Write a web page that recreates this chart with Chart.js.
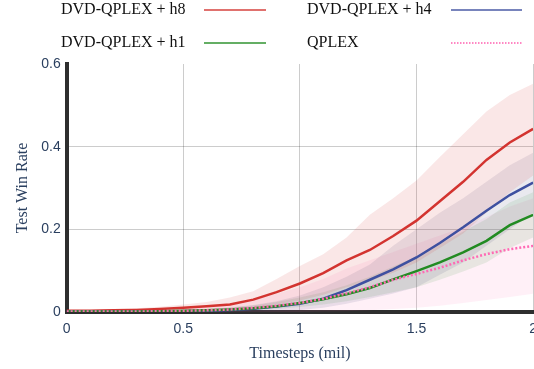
<!DOCTYPE html>
<html>
<head>
<meta charset="utf-8">
<script src="https://cdn.jsdelivr.net/npm/chart.js@4"></script>
<style>
  html, body { margin: 0; padding: 0; background: #fff; overflow: hidden; }
  #wrap { width: 546px; height: 369px; }
</style>
</head>
<body>
<div id="wrap"><canvas id="winChart"></canvas></div>
<script>
// timesteps in millions
const steps = [0, 0.1, 0.2, 0.3, 0.4, 0.5, 0.6, 0.7, 0.8, 0.9, 1.0, 1.1, 1.2, 1.3, 1.4, 1.5, 1.6, 1.7, 1.8, 1.9, 2.0];

// DVD-QPLEX + h8
const h8Mean  = [0.003, 0.003, 0.004, 0.005, 0.007, 0.01, 0.014, 0.018, 0.03, 0.048, 0.069, 0.094, 0.125, 0.15, 0.184, 0.221, 0.268, 0.315, 0.368, 0.41, 0.443];
const h8Upper = [0.004, 0.005, 0.007, 0.009, 0.013, 0.018, 0.024, 0.035, 0.05, 0.08, 0.111, 0.14, 0.18, 0.235, 0.275, 0.318, 0.375, 0.43, 0.485, 0.525, 0.552];
const h8Lower = [0.001, 0.001, 0.001, 0.001, 0.002, 0.003, 0.004, 0.006, 0.01, 0.018, 0.028, 0.042, 0.06, 0.075, 0.095, 0.12, 0.155, 0.19, 0.24, 0.29, 0.33];

// DVD-QPLEX + h4
const h4Mean  = [0.001, 0.001, 0.001, 0.001, 0.002, 0.002, 0.003, 0.005, 0.008, 0.013, 0.02, 0.032, 0.053, 0.078, 0.103, 0.132, 0.167, 0.205, 0.245, 0.283, 0.313];
const h4Upper = [0.002, 0.002, 0.003, 0.003, 0.004, 0.005, 0.007, 0.011, 0.017, 0.026, 0.04, 0.06, 0.085, 0.115, 0.16, 0.2, 0.24, 0.275, 0.315, 0.355, 0.385];
const h4Lower = [0, 0, 0, 0, 0, 0, 0, 0.001, 0.002, 0.003, 0.005, 0.01, 0.02, 0.032, 0.045, 0.06, 0.09, 0.12, 0.16, 0.2, 0.24];

// DVD-QPLEX + h1
const h1Mean  = [0.001, 0.001, 0.001, 0.001, 0.002, 0.003, 0.004, 0.006, 0.009, 0.014, 0.022, 0.031, 0.043, 0.058, 0.079, 0.099, 0.12, 0.144, 0.172, 0.21, 0.235];
const h1Upper = [0.002, 0.002, 0.003, 0.003, 0.004, 0.005, 0.007, 0.011, 0.016, 0.024, 0.035, 0.048, 0.065, 0.085, 0.11, 0.135, 0.165, 0.195, 0.225, 0.265, 0.29];
const h1Lower = [0, 0, 0, 0, 0, 0.001, 0.001, 0.002, 0.004, 0.007, 0.012, 0.018, 0.026, 0.036, 0.048, 0.06, 0.078, 0.098, 0.12, 0.155, 0.18];

// QPLEX
const qpMean  = [0.001, 0.001, 0.001, 0.001, 0.002, 0.003, 0.004, 0.006, 0.01, 0.015, 0.022, 0.032, 0.045, 0.06, 0.078, 0.092, 0.107, 0.125, 0.14, 0.152, 0.16];
const qpUpper = [0.002, 0.002, 0.003, 0.004, 0.006, 0.009, 0.013, 0.02, 0.03, 0.044, 0.06, 0.08, 0.105, 0.125, 0.145, 0.165, 0.185, 0.205, 0.23, 0.255, 0.275];
const qpLower = [0, 0, 0, 0, 0, 0, 0, 0, 0, 0, 0, 0.001, 0.002, 0.004, 0.007, 0.01, 0.015, 0.022, 0.029, 0.036, 0.044];

const seriesNames = ['DVD-QPLEX + h8', 'DVD-QPLEX + h4', 'DVD-QPLEX + h1', 'QPLEX'];
const xTicks = [0, 0.5, 1, 1.5, 2];
const yTicks = [0, 0.2, 0.4, 0.6];

const series = [
    { name: seriesNames[0], mean: h8Mean, upper: h8Upper, lower: h8Lower, color: 'rgb(211,52,48)', band: 'rgba(214,39,40,0.11)', dash: [] },
    { name: seriesNames[1], mean: h4Mean, upper: h4Upper, lower: h4Lower, color: 'rgb(62,80,160)', band: 'rgba(70,70,120,0.12)', dash: [] },
    { name: seriesNames[2], mean: h1Mean, upper: h1Upper, lower: h1Lower, color: 'rgb(34,139,34)', band: 'rgba(34,139,34,0.1)', dash: [] },
    { name: seriesNames[3], mean: qpMean, upper: qpUpper, lower: qpLower, color: 'rgb(255,105,180)', band: 'rgba(255,105,180,0.1)', dash: [2, 2] }
];

function pts(arr) {
    return steps.map((s, i) => ({ x: s, y: arr[i] }));
}

// bands first, mean lines on top
const datasets = [];
series.forEach(s => {
    const upIdx = datasets.length;
    datasets.push({ label: s.name + ' upper', data: pts(s.upper), borderWidth: 0, pointRadius: 0, backgroundColor: s.band, fill: upIdx + 1, order: 2 });
    datasets.push({ label: s.name + ' lower', data: pts(s.lower), borderWidth: 0, pointRadius: 0, fill: false, order: 2 });
});
series.slice().reverse().forEach(s => {
    datasets.push({ label: s.name, data: pts(s.mean), borderColor: s.color, borderWidth: 2.5, borderDash: s.dash, pointRadius: 0, fill: false, order: 1 });
});

// legend: text first, then a line sample (drawn by hand)
const legendPlugin = {
    id: 'textLegend',
    afterDraw(chart) {
        const ctx = chart.ctx;
        const cols = [61, 307];
        const rows = [10, 43];
        ctx.save();
        ctx.font = "16px 'Liberation Serif'";
        ctx.fillStyle = '#111';
        ctx.textBaseline = 'middle';
        series.forEach((s, i) => {
            const x = cols[i % 2];
            const y = rows[Math.floor(i / 2)];
            ctx.fillText(s.name, x, y);
            ctx.beginPath();
            ctx.strokeStyle = s.color;
            ctx.lineWidth = 2;
            ctx.setLineDash(s.dash.length ? [1.5, 1.5] : []);
            ctx.globalAlpha = i === 3 ? 0.8 : 0.7;
            const x0 = i % 2 === 0 ? 204 : 451;
            const x1 = i % 2 === 0 ? 266 : 522;
            ctx.moveTo(x0, y);
            ctx.lineTo(x1, y);
            ctx.stroke();
            ctx.globalAlpha = 1;
        });
        ctx.restore();
    }
};

const ctx = document.getElementById('winChart').getContext('2d');
new Chart(ctx, {
    type: 'line',
    data: { datasets: datasets },
    options: {
        responsive: true,
        maintainAspectRatio: false,
        animation: false,
        layout: { padding: { top: 64, left: 13, right: 0, bottom: 6 } },
        plugins: {
            legend: { display: false },
            tooltip: { enabled: false }
        },
        elements: { line: { tension: 0 } },
        scales: {
            x: {
                type: 'linear',
                min: 0,
                max: 2,
                afterBuildTicks: axis => { axis.ticks = xTicks.map(v => ({ value: v })); },
                ticks: { color: '#2a3f5f', font: { family: "'Liberation Sans'", size: 14 }, padding: 9, maxRotation: 0, callback: v => String(v) },
                grid: { color: ctx2 => ctx2.tick && ctx2.tick.value === 0 ? 'rgba(0,0,0,0)' : 'rgba(0,0,0,0.2)', drawTicks: false },
                border: { display: true, color: '#2e2e2e', width: 4 },
                title: { display: true, text: 'Timesteps (mil)', color: '#2a3f5f', font: { family: "'Liberation Serif'", size: 16 }, padding: { top: -3, bottom: 0 } }
            },
            y: {
                min: 0,
                max: 0.6,
                afterBuildTicks: axis => { axis.ticks = yTicks.map(v => ({ value: v })); },
                ticks: { color: '#2a3f5f', font: { family: "'Liberation Sans'", size: 14 }, padding: 6, callback: v => String(v) },
                grid: { color: ctx2 => ctx2.tick && (ctx2.tick.value === 0 || ctx2.tick.value === 0.6) ? 'rgba(0,0,0,0)' : 'rgba(0,0,0,0.2)', drawTicks: false },
                border: { display: true, color: '#2e2e2e', width: 4 },
                title: { display: true, text: 'Test Win Rate', color: '#2a3f5f', font: { family: "'Liberation Serif'", size: 16 }, padding: { top: 0, bottom: 3 } }
            }
        }
    },
    plugins: [legendPlugin]
});
</script>
</body>
</html>
